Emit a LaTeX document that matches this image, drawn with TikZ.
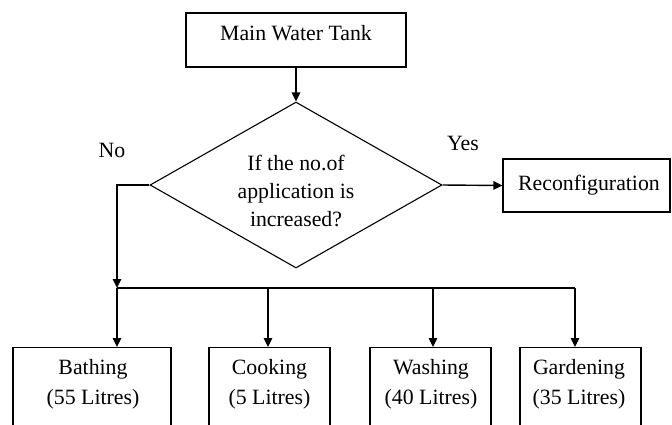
\documentclass[tikz,border=0pt]{standalone}
\usepackage{fontspec}
\setmainfont{Liberation Serif}
\usetikzlibrary{arrows.meta,shapes.geometric}
\begin{document}
\begin{tikzpicture}[x=1pt,y=-1pt,
  boxst/.style={draw, line width=1.1pt, rectangle, inner sep=0pt},
  decst/.style={draw, line width=1.1pt, diamond, inner sep=0pt, minimum width=292pt, minimum height=166pt},
  txt/.style={font=\fontsize{21.8}{28}\selectfont, align=center, inner sep=0pt},
  btxt/.style={font=\fontsize{21.8}{30}\selectfont, align=center, inner sep=0pt},
  conn/.style={line width=1.4pt},
  arr/.style={line width=1.4pt, -{Triangle[length=9pt,width=8.5pt]}}]
\useasboundingbox (0,0) rectangle (672,424);
\clip (0,0) rectangle (672,424);
% top box
\node[boxst, minimum width=220pt, minimum height=54pt] (tank) at (296,40) {};
\node[txt] (tankT) at (296,33) {Main Water Tank};
% decision
\node[decst] (dec) at (296,185) {};
\node[txt] (decT) at (296,191) {If the no.of\\application is\\increased?};
% reconfiguration
\node[boxst, minimum width=167pt, minimum height=53pt] (rec) at (586.5,185.5) {};
\node[txt] (recT) at (589,185) {Reconfiguration};
% labels
\node[txt] (no) at (112,150) {No};
\node[txt] (yes) at (463,143) {Yes};
% bottom boxes
\node[boxst, minimum width=158pt, minimum height=100pt, anchor=north] (bath) at (92,347) {};
\node[boxst, minimum width=121pt, minimum height=100pt, anchor=north] (cook) at (269.5,347) {};
\node[boxst, minimum width=121pt, minimum height=100pt, anchor=north] (wash) at (430.5,347) {};
\node[boxst, minimum width=121pt, minimum height=100pt, anchor=north] (gard) at (580.5,347) {};
\node[btxt] (bathT) at (93,384) {Bathing\\(55 Litres)};
\node[btxt] (cookT) at (269.5,384) {Cooking\\(5 Litres)};
\node[btxt] (washT) at (431,384) {Washing\\(40 Litres)};
\node[btxt] (gardT) at (579,384) {Gardening\\(35 Litres)};
% connectors
\coordinate (busL) at (117,288);
\coordinate (busR) at (575,288);
\coordinate (busC) at (268,288);
\coordinate (busW) at (433,288);
\draw[arr] (tank.south) -- (dec.north);
\draw[arr] (dec.east) -- (rec.west);
\draw[arr] (dec.west) -| (busL);
\draw[conn] (busL) -- (busR);
\draw[arr] (busL) -- (busL |- bath.north);
\draw[arr] (busC) -- (busC |- cook.north);
\draw[arr] (busW) -- (busW |- wash.north);
\draw[arr] (busR) -- (busR |- gard.north);
\end{tikzpicture}
\end{document}
